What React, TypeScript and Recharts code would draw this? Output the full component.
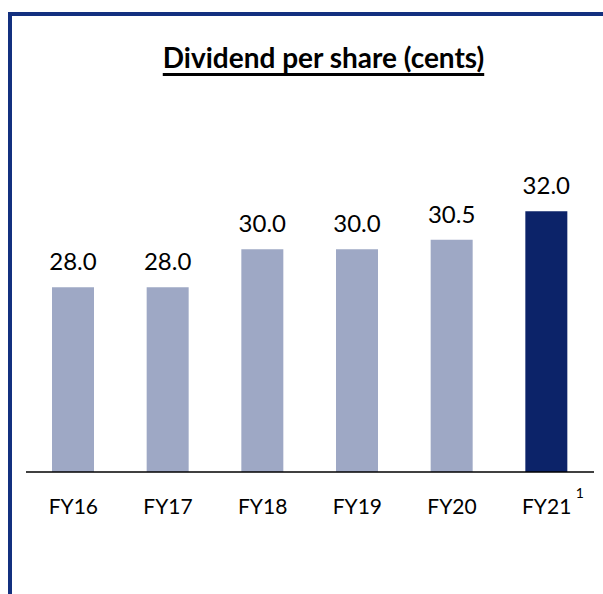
import React from "react";
import { BarChart, Bar, XAxis, YAxis, LabelList, Cell } from "recharts";

const categories = ["FY16", "FY17", "FY18", "FY19", "FY20", "FY21"];
const dividends = [28.0, 28.0, 30.0, 30.0, 30.5, 32.0];
const footnotes = ["", "", "", "", "", "1"];
const highlight = [false, false, false, false, false, true];

const data = categories.map((c, i) => ({
  name: c,
  value: dividends[i],
  note: footnotes[i],
  hi: highlight[i],
}));

const LIGHT = "#9ea8c5";
const DARK = "#0c2369";
const FRAME = "#13307f";
const FONT = "Lato, 'Open Sans', sans-serif";

const Tick = (props: any) => {
  const { x, y, payload, index } = props;
  const note = footnotes[index] || "";
  return (
    <g>
      <text
        x={x}
        y={y}
        dy={34}
        textAnchor="middle"
        fontFamily={FONT}
        fontSize={21}
        fill="#000"
      >
        {payload.value}
      </text>
      {note ? (
        <text x={x + 29} y={y} dy={18} fontFamily={FONT} fontSize={14} fill="#000">
          {note}
        </text>
      ) : null}
    </g>
  );
};

export default function App() {
  return (
    <div
      style={{
        position: "absolute",
        left: 0,
        top: 0,
        width: 603,
        height: 594,
        overflow: "hidden",
        background: "#fff",
      }}
    >
      <div
        style={{
          position: "absolute",
          left: 8,
          top: 12,
          width: 800,
          height: 800,
          borderLeft: `4px solid ${FRAME}`,
          borderTop: `4px solid ${FRAME}`,
          boxSizing: "border-box",
        }}
      />
      <div
        style={{
          position: "absolute",
          left: 0,
          width: 647,
          top: 42,
          textAlign: "center",
          fontFamily: FONT,
          fontWeight: 700,
          fontSize: 28,
          color: "#000",
          lineHeight: "30px",
          textDecoration: "underline",
          textDecorationThickness: "3px",
          textUnderlineOffset: "5px",
          whiteSpace: "nowrap",
        }}
      >
        Dividend per share (cents)
      </div>
      <div style={{ position: "absolute", left: 0, top: 0 }}>
        <BarChart
          width={603}
          height={594}
          data={data}
          margin={{ top: 97, right: 9, bottom: 92, left: 26 }}
          barSize={42}
        >
          <YAxis hide domain={[18.3, 38]} allowDataOverflow />
          <XAxis
            dataKey="name"
            axisLine={{ stroke: "#000", strokeWidth: 1.5 }}
            tickLine={false}
            tick={<Tick />}
            interval={0}
          />
          <Bar dataKey="value" isAnimationActive={false}>
            {data.map((d, i) => (
              <Cell key={i} fill={d.hi ? DARK : LIGHT} />
            ))}
            <LabelList
              dataKey="value"
              position="top"
              offset={17}
              formatter={(v: any) => Number(v).toFixed(1)}
              style={{ fontFamily: FONT, fontSize: 24, fill: "#000" }}
            />
          </Bar>
        </BarChart>
      </div>
    </div>
  );
}
